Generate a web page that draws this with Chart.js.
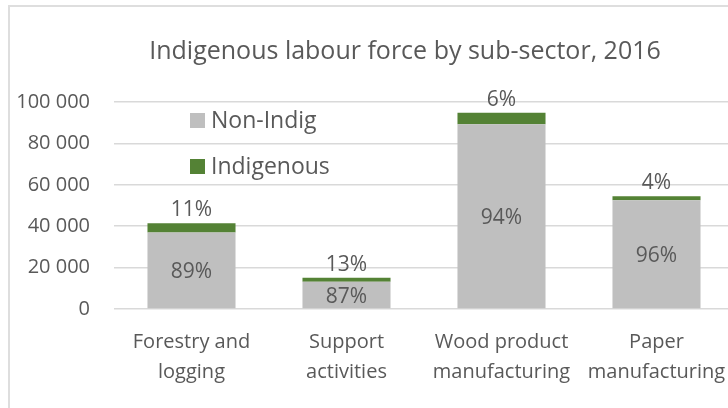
<!DOCTYPE html>
<html>
<head>
<meta charset="utf-8">
<script src="https://cdn.jsdelivr.net/npm/chart.js@4/dist/chart.umd.min.js"></script>
<style>
  html, body { margin: 0; padding: 0; background: #fff; overflow: hidden; }
  #frame { position: absolute; left: 8px; top: 5px; width: 840px; height: 500px; border: 2px solid #dedede; }
  #wrap { position: absolute; left: 0; top: 0; width: 810px; height: 408px; }
</style>
</head>
<body>
<div id="frame"></div>
<div id="wrap"><canvas id="chart" width="810" height="408"></canvas></div>
<script>
// Labour force counts by forestry sub-sector, 2016
const categories = [['Forestry and', 'logging'], ['Support', 'activities'], ['Wood product', 'manufacturing'], ['Paper', 'manufacturing']];
const nonIndig   = [37000, 13200, 89200, 52500];
const indigenous = [4400, 1900, 5600, 2000];
const yTicks     = [0, 20000, 40000, 60000, 80000, 100000];

const FONT = "'Open Sans', sans-serif";
const TEXT = '#595959';

function fmtThousands(v) {
  return String(v).replace(/\B(?=(\d{3})+(?!\d))/g, ' ');
}

// share of each series in its bar's total, as a whole percent
function share(dsIndex, i) {
  const total = nonIndig[i] + indigenous[i];
  const v = dsIndex === 0 ? nonIndig[i] : indigenous[i];
  return Math.round(v / total * 100) + '%';
}

const pctLabels = {
  id: 'pctLabels',
  afterDatasetsDraw(chart) {
    const ctx = chart.ctx;
    ctx.save();
    ctx.font = '21px ' + FONT;
    ctx.fillStyle = TEXT;
    ctx.textAlign = 'center';
    ctx.textBaseline = 'middle';
    chart.getDatasetMeta(0).data.forEach((bar, i) => {
      ctx.fillText(share(0, i), bar.x, (bar.y + bar.base) / 2 + 2);
    });
    chart.getDatasetMeta(1).data.forEach((bar, i) => {
      ctx.fillText(share(1, i), bar.x, bar.y - 13);
    });
    ctx.restore();
  }
};

// vertical legend sitting inside the plot, top left
const innerLegend = {
  id: 'innerLegend',
  afterDraw(chart) {
    const ctx = chart.ctx;
    ctx.save();
    ctx.font = '23px ' + FONT;
    ctx.textBaseline = 'middle';
    chart.data.datasets.forEach((ds, k) => {
      const y = 120.5 + k * 46;
      ctx.fillStyle = ds.backgroundColor;
      ctx.fillRect(190, y - 7.5, 15, 15);
      ctx.fillStyle = TEXT;
      ctx.fillText(ds.label, 211, y + 1);
    });
    ctx.restore();
  }
};

new Chart(document.getElementById('chart'), {
  type: 'bar',
  data: {
    labels: categories,
    datasets: [
      { label: 'Non-Indig', data: nonIndig, backgroundColor: '#bfbfbf' },
      { label: 'Indigenous', data: indigenous, backgroundColor: '#548235' },
    ],
  },
  options: {
    responsive: false,
    animation: false,
    layout: { padding: { left: 0, right: 0, top: 0, bottom: 9 } },
    datasets: { bar: { barPercentage: 1, categoryPercentage: 0.568 } },
    plugins: {
      legend: { display: false },
      tooltip: { enabled: false },
      title: {
        display: true,
        text: 'Indigenous labour force by sub-sector, 2016',
        color: TEXT,
        font: { family: FONT, size: 25, weight: 'normal', lineHeight: 1.2 },
        padding: { top: 37, bottom: 35 },
      },
    },
    scales: {
      x: {
        stacked: true,
        grid: { display: false },
        border: { display: false },
        ticks: { color: TEXT, font: { family: FONT, size: 20, lineHeight: 1.5 }, padding: 10, maxRotation: 0, autoSkip: false },
        afterFit(scale) { scale.height = 90; },
      },
      y: {
        stacked: true,
        min: 0,
        max: 100000,
        afterBuildTicks(scale) { scale.ticks = yTicks.map(v => ({ value: v })); },
        grid: { color: '#d9d9d9', lineWidth: 1.5, drawTicks: false, tickLength: 0 },
        border: { display: false },
        ticks: { color: TEXT, font: { family: FONT, size: 20 }, padding: 24, callback: v => fmtThousands(v) },
        afterFit(scale) { scale.width = 114; },
      },
      // empty right-hand axis, only reserves the margin past the last bar
      spacer: {
        position: 'right',
        grid: { display: false },
        border: { display: false },
        ticks: { display: false },
        afterFit(scale) { scale.width = 76; },
      },
    },
  },
  plugins: [pctLabels, innerLegend],
});
</script>
</body>
</html>
